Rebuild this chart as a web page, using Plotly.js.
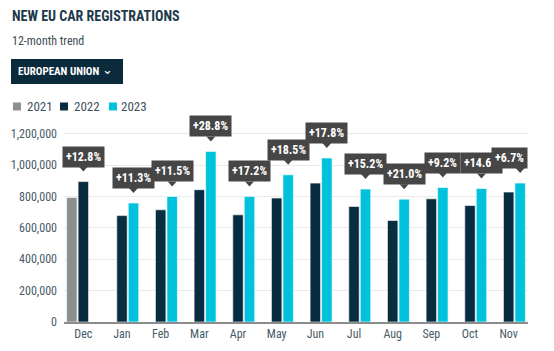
<!DOCTYPE html>
<html>
<head>
<meta charset="utf-8">
<script src="https://cdn.plot.ly/plotly-3.0.1.min.js"></script>
<style>
html,body{margin:0;padding:0;background:#fff;}
#chart{width:554px;height:351px;}
</style>
</head>
<body>
<div id="chart"></div>
<script>
// ---- data ----
const months = ["Dec","Jan","Feb","Mar","Apr","May","Jun","Jul","Aug","Sep","Oct","Nov"];
const reg2021 = [793000,null,null,null,null,null,null,null,null,null,null,null];
const reg2022 = [895000,678000,715000,843000,683000,790000,885000,736000,647000,785000,742000,828000];
const reg2023 = [null,758000,800000,1087000,800000,938000,1045000,847000,783000,857000,851000,885000];
const growthLabels = ["+12.8%","+11.3%","+11.5%","+28.8%","+17.2%","+18.5%","+17.8%","+15.2%","+21.0%","+9.2%","+14.6%","+6.7%"];
const seriesNames = ["2021","2022","2023"];

const FONT = "Roboto Condensed, Liberation Sans Narrow, DejaVu Sans Condensed, Roboto, sans-serif";
const colors = ["#8a8e8e","#082c40","#00c2dc"];
const BAR_STEP = 11.5; // px between bar centres in a group

const traces = [reg2021, reg2022, reg2023].map((vals, k) => ({
  type: "bar",
  name: seriesNames[k],
  x: months,
  y: vals,
  marker: {color: colors[k], line: {color: "#ffffff", width: 0.6}},
  hoverinfo: "skip",
  showlegend: false
}));

const annotations = [];
const shapes = [];
months.forEach((m, i) => {
  const latestIsMiddle = reg2023[i] === null;
  const v = latestIsMiddle ? reg2022[i] : reg2023[i];
  const dx = latestIsMiddle ? 0 : BAR_STEP;
  const last = i === months.length - 1;
  annotations.push({
    x: i, y: v, xref: "x", yref: "y",
    text: "<b>" + growthLabels[i] + "</b>",
    showarrow: false,
    xanchor: last ? "right" : "center",
    yanchor: "bottom",
    xshift: last ? dx + 8 : dx,
    yshift: 14,
    bgcolor: "#464646",
    borderpad: 3,
    font: {family: FONT, size: 12, color: "#ffffff"}
  });
  shapes.push({
    type: "path", xref: "x", yref: "y",
    xsizemode: "pixel", ysizemode: "pixel",
    xanchor: i, yanchor: v,
    path: `M ${dx-4.5},15 L ${dx+4.5},15 L ${dx},10 Z`,
    fillcolor: "#464646", line: {width: 0}
  });
});

const px = x => (x - 64) / 464;
const py = y => 1 + (118 - y) / 204;

annotations.push(
  {xref:"paper",yref:"paper",x:px(10),y:py(16),xanchor:"left",yanchor:"middle",showarrow:false,
   text:"<b>NEW EU CAR REGISTRATIONS</b>",font:{family:FONT,size:14,color:"#1d3a4c"}},
  {xref:"paper",yref:"paper",x:px(10),y:py(41),xanchor:"left",yanchor:"middle",showarrow:false,
   text:"12-month trend",font:{family:FONT,size:12,color:"#3d4b55"}},
  {xref:"paper",yref:"paper",x:px(16),y:py(71.5),xanchor:"left",yanchor:"middle",showarrow:false,
   text:"<b>EUROPEAN UNION</b>",font:{family:FONT,size:11,color:"#ffffff"}},
  {xref:"paper",yref:"paper",x:px(107),y:py(69),xanchor:"center",yanchor:"middle",showarrow:false,
   text:"⌄",font:{family:"DejaVu Sans",size:13,color:"#ffffff"}}
);
shapes.push(
  {type:"rect",xref:"paper",yref:"paper",x0:px(11),x1:px(123),y0:py(84),y1:py(59),
   fillcolor:"#0b2a3c",line:{width:0},layer:"above"}
);
const legendX = [13, 60, 109];
const legendTextX = [25, 72, 119];
seriesNames.forEach((n, k) => {
  shapes.push({type:"rect",xref:"paper",yref:"paper",
    x0:px(legendX[k]),x1:px(legendX[k]+8),
    y0:py(110.5),y1:py(102.5),fillcolor:colors[k],line:{width:0}});
  annotations.push({xref:"paper",yref:"paper",x:px(legendTextX[k]),y:py(106.5),
    xanchor:"left",yanchor:"middle",showarrow:false,text:n,
    font:{family:FONT,size:13,color:"#3d5060"}});
});

const layout = {
  width: 554, height: 351,
  margin: {l: 64, r: 26, t: 118, b: 29},
  paper_bgcolor: "#ffffff", plot_bgcolor: "#ffffff",
  barmode: "group", bargap: 0.108, bargroupgap: 0.09,
  font: {family: FONT, color: "#465a68"},
  xaxis: {
    type: "category", showgrid: false, ticks: "",
    showline: true, linecolor: "#8c8c8c", linewidth: 1.5,
    tickfont: {family: FONT, size: 12, color: "#465a68"},
    range: [-0.5, 11.5], fixedrange: true
  },
  yaxis: {
    range: [0, 1300000], tickvals: [0,200000,400000,600000,800000,1000000,1200000],
    tickformat: ",d", showgrid: true, gridcolor: "#e9e9e9", gridwidth: 1,
    zeroline: false, showline: false, ticks: "",
    ticklabelstandoff: 6,
    tickfont: {family: FONT, size: 12, color: "#465a68"},
    fixedrange: true
  },
  annotations: annotations,
  shapes: shapes,
  showlegend: false
};

Plotly.newPlot("chart", traces, layout, {displayModeBar: false, staticPlot: true});
</script>
</body>
</html>
